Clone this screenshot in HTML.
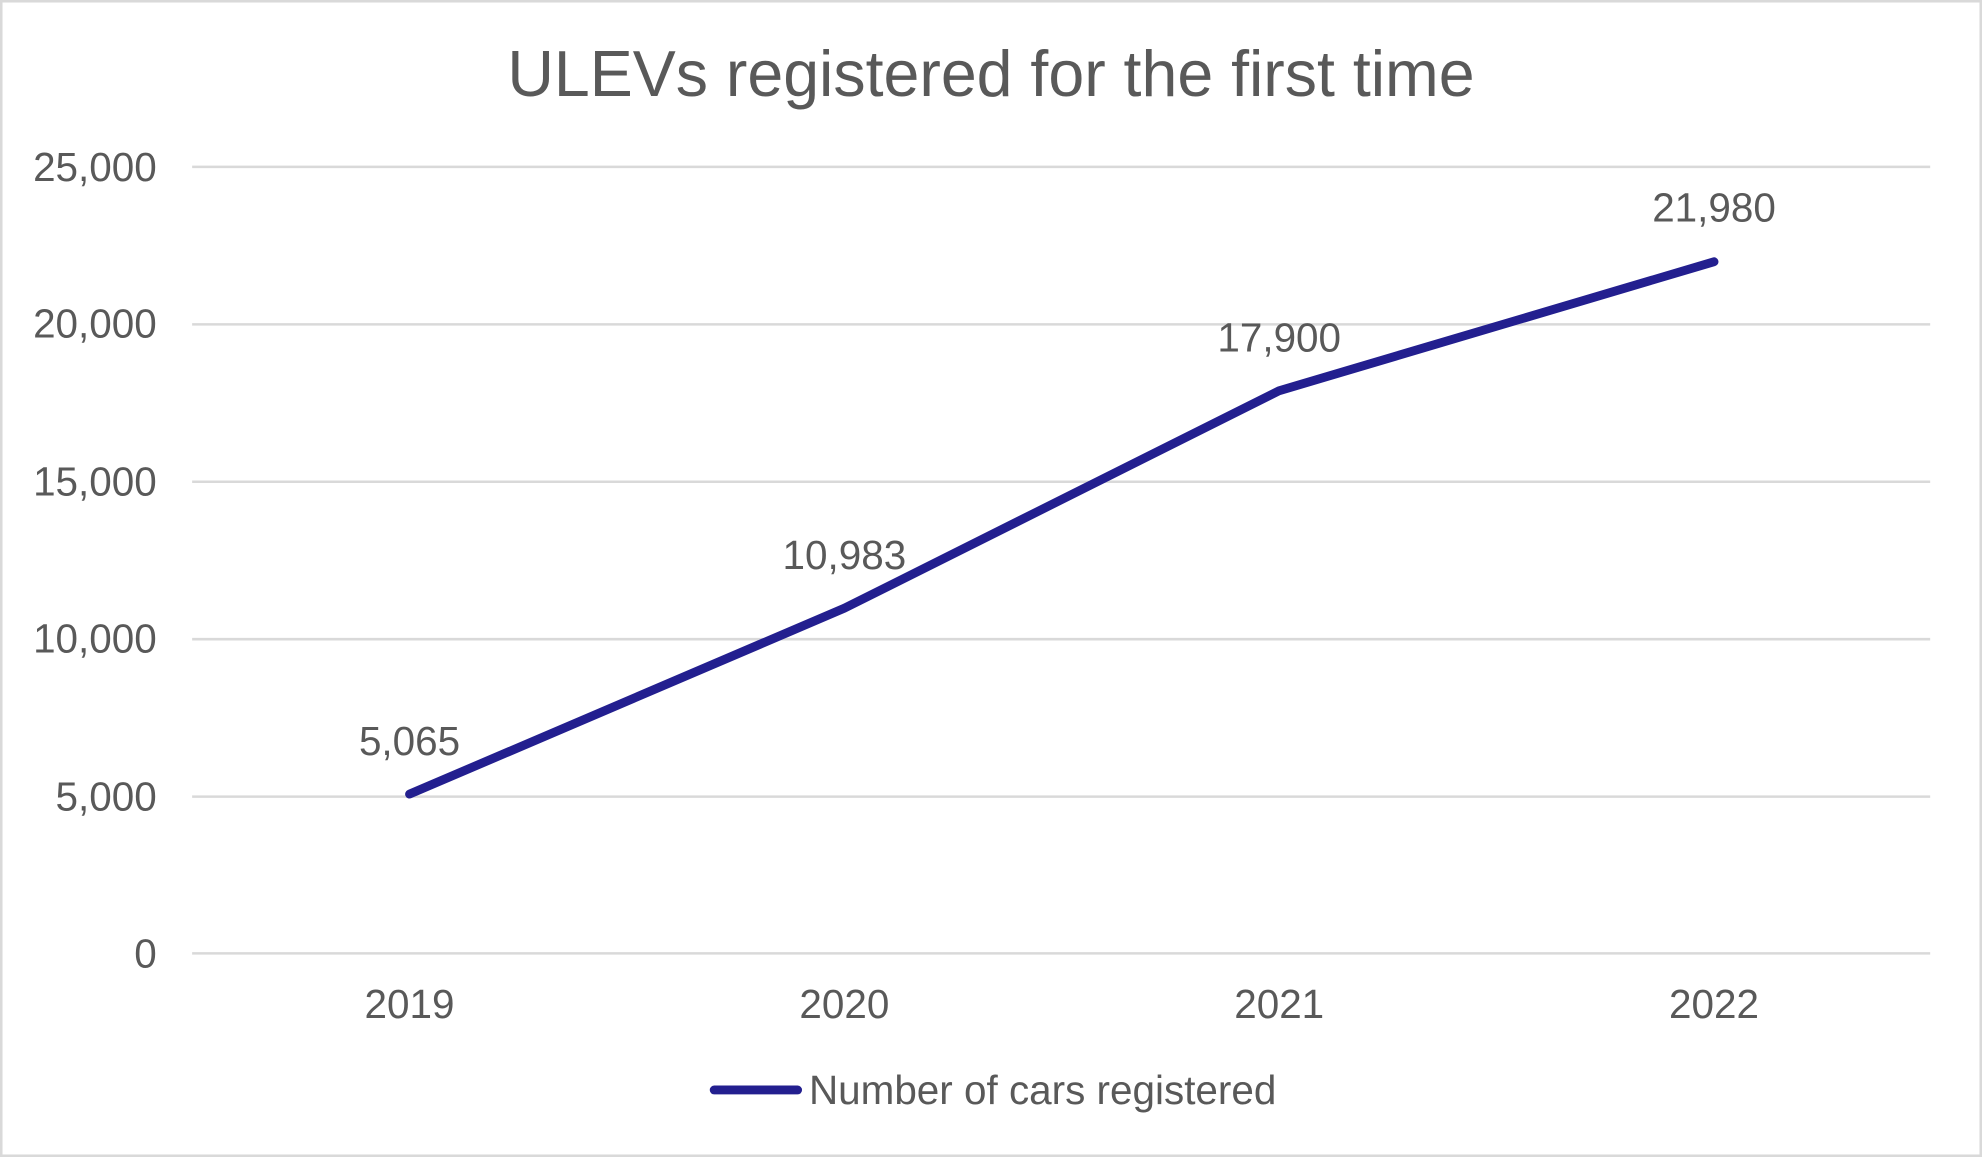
<!DOCTYPE html>
<html><head><style>
html,body{margin:0;padding:0;background:#fff;}
svg{display:block;}
text{font-family:"Liberation Sans",Arial,sans-serif;fill:#595959;}
</style></head><body>
<svg width="1982" height="1157" viewBox="0 0 1568 915" preserveAspectRatio="none" xmlns="http://www.w3.org/2000/svg">
<rect x="1" y="1" width="1566" height="913" fill="#fff" stroke="#d9d9d9" stroke-width="2"/>
<text x="784" y="76" font-size="51" text-anchor="middle">ULEVs registered for the first time</text>
<g stroke="#d9d9d9" stroke-width="2">
<line x1="152" x2="1527" y1="132" y2="132"/>
<line x1="152" x2="1527" y1="256.5" y2="256.5"/>
<line x1="152" x2="1527" y1="381" y2="381"/>
<line x1="152" x2="1527" y1="505.5" y2="505.5"/>
<line x1="152" x2="1527" y1="630" y2="630"/>
<line x1="152" x2="1527" y1="754" y2="754"/>
</g>
<g font-size="32" text-anchor="end">
<text x="124" y="143">25,000</text>
<text x="124" y="267">20,000</text>
<text x="124" y="392">15,000</text>
<text x="124" y="516">10,000</text>
<text x="124" y="641">5,000</text>
<text x="124" y="765">0</text>
</g>
<g font-size="32" text-anchor="middle">
<text x="324" y="805">2019</text>
<text x="668" y="805">2020</text>
<text x="1012" y="805">2021</text>
<text x="1356" y="805">2022</text>
</g>
<polyline points="324,628 668,481 1012,309 1356,207" fill="none" stroke="#231f8f" stroke-width="7" stroke-linecap="round" stroke-linejoin="round"/>
<g font-size="32" text-anchor="middle" style="fill:#404040">
<text x="324" y="597">5,065</text>
<text x="668" y="450">10,983</text>
<text x="1012" y="278">17,900</text>
<text x="1356" y="175">21,980</text>
</g>
<line x1="565" x2="631" y1="862" y2="862" stroke="#231f8f" stroke-width="7" stroke-linecap="round"/>
<text x="640" y="873" font-size="32">Number of cars registered</text>
</svg>
</body></html>
